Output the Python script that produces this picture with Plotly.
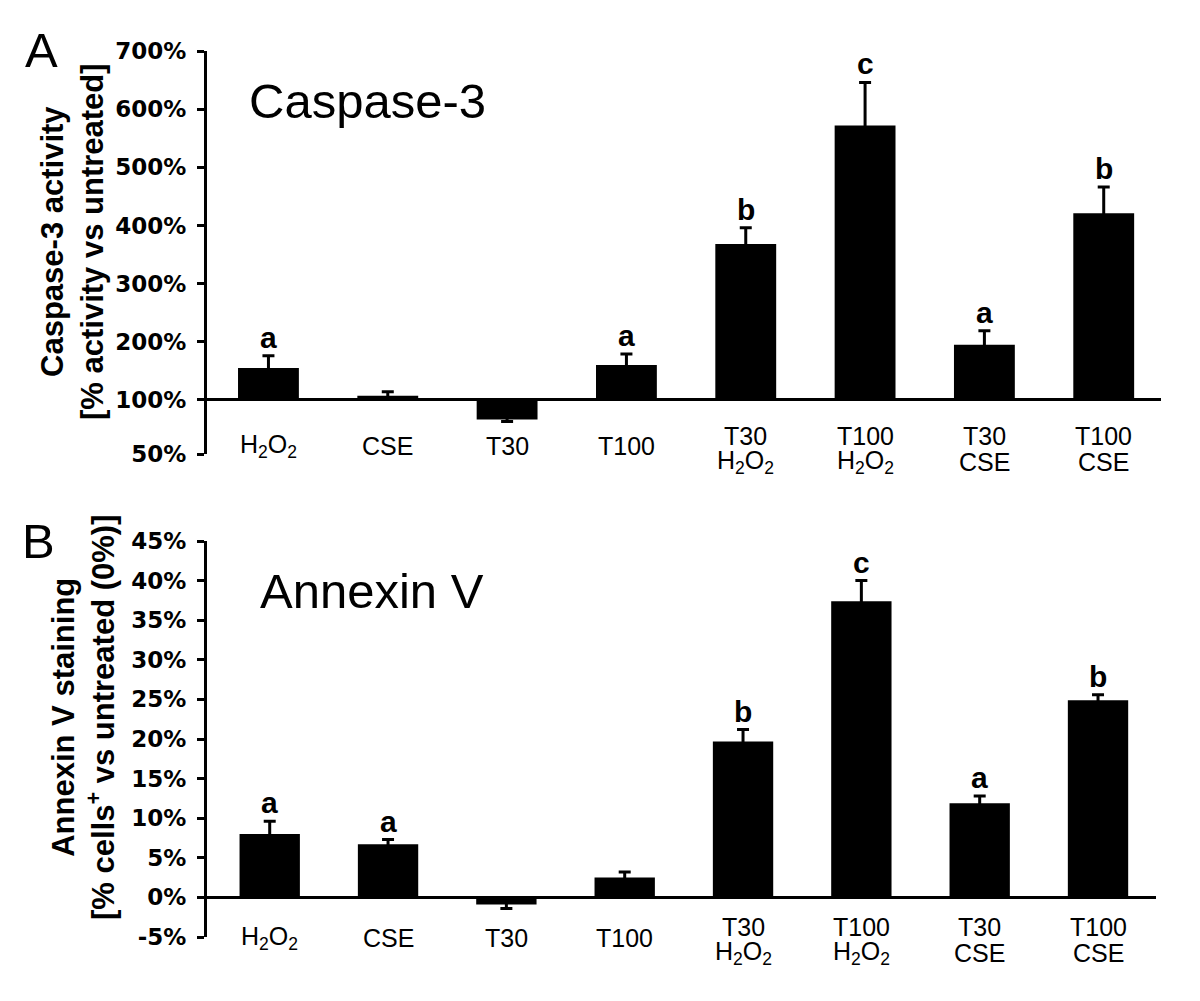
import plotly.graph_objects as go

# ---------------- data ----------------
categories = ["H2O2", "CSE", "T30", "T100", "T30 H2O2", "T100 H2O2", "T30 CSE", "T100 CSE"]
label_line1 = ["H<sub>2</sub>O<sub>2</sub>", "CSE", "T30", "T100", "T30", "T100", "T30", "T100"]
label_line2 = ["", "", "", "", "H<sub>2</sub>O<sub>2</sub>", "H<sub>2</sub>O<sub>2</sub>", "CSE", "CSE"]

# Panel A: Caspase-3 activity (% of untreated)
casp_mean = [155, 107, 82, 160, 368, 572, 195, 421]
casp_err = [21, 7, 2, 19, 28, 74, 24, 45]
casp_letters = ["a", "", "", "a", "b", "c", "a", "b"]
casp_ticks = [50, 100, 200, 300, 400, 500, 600, 700]

# Panel B: Annexin V staining (% cells+ vs untreated)
annx_mean = [8.0, 6.7, -0.9, 2.5, 19.7, 37.4, 11.9, 24.9]
annx_err = [1.6, 0.6, 0.5, 0.7, 1.5, 2.6, 0.9, 0.7]
annx_letters = ["a", "a", "", "", "b", "c", "a", "b"]
annx_ticks = [-5, 0, 5, 10, 15, 20, 25, 30, 35, 40, 45]

# ---------------- helpers ----------------
LOW_FACTOR = 1.86  # segmented axis below 100 %


def to_axis(v):
    return v - 100 if v >= 100 else (v - 100) * LOW_FACTOR


# figure geometry; the page body adds an 8px margin, so screen = figure + 8
OFF = 8
W, H = 1184, 985
L = 207 - OFF
T = 51 - OFF
R = W - (1161 - OFF)
B = H - (937 - OFF)
PH = H - T - B
PW = W - L - R


def py(screen_y):
    return (H - B - (screen_y - OFF)) / PH


def px(screen_x):
    return (screen_x - OFF - L) / PW


xs = list(range(len(categories)))

# hidden-side error length (kept inside the bar so that no cap shows)
A_HIDE = 5
B_HIDE = 0.35

a_base = [to_axis(v) for v in casp_mean]
a_plus = [to_axis(v + e) - to_axis(v) if v >= 100 else A_HIDE for v, e in zip(casp_mean, casp_err)]
a_minus = [A_HIDE if v >= 100 else to_axis(v) - to_axis(v - e) for v, e in zip(casp_mean, casp_err)]

b_plus = [e if v >= 0 else B_HIDE for v, e in zip(annx_mean, annx_err)]
b_minus = [B_HIDE if v >= 0 else e for v, e in zip(annx_mean, annx_err)]

fig = go.Figure()
fig.add_trace(go.Bar(
    x=xs, y=a_base, width=0.51, marker=dict(color="black", line=dict(width=0)),
    error_y=dict(type="data", symmetric=False, array=a_plus, arrayminus=a_minus,
                 color="black", thickness=3, width=6),
    xaxis="x", yaxis="y", showlegend=False))
fig.add_trace(go.Bar(
    x=xs, y=annx_mean, width=0.51, marker=dict(color="black", line=dict(width=0)),
    error_y=dict(type="data", symmetric=False, array=b_plus, arrayminus=b_minus,
                 color="black", thickness=3, width=6),
    xaxis="x2", yaxis="y2", showlegend=False))

tickfont = dict(family="DejaVu Sans", size=23, color="black", weight="bold")
yax_common = dict(showline=True, linewidth=3, linecolor="black", ticks="outside",
                  ticklen=7, tickwidth=3, tickcolor="black", showgrid=False,
                  zeroline=True, zerolinecolor="black", zerolinewidth=3,
                  tickfont=tickfont, ticklabelstandoff=6)

fig.update_layout(
    width=W, height=H, margin=dict(l=L, r=R, t=T, b=B),
    paper_bgcolor="white", plot_bgcolor="white", bargap=0.49,
    xaxis=dict(domain=[0, 1], range=[-0.515, 7.48], showticklabels=False, ticks="",
               showline=False, showgrid=False, zeroline=False, anchor="y"),
    xaxis2=dict(domain=[0, px(1156)], range=[-0.53, 7.49], showticklabels=False, ticks="",
                showline=False, showgrid=False, zeroline=False, anchor="y2"),
    yaxis=dict(domain=[py(454), 1], range=[to_axis(50), to_axis(700)],
               tickvals=[to_axis(t) for t in casp_ticks],
               ticktext=[f"{t}%" for t in casp_ticks], anchor="x", **yax_common),
    yaxis2=dict(domain=[0, py(541)], range=[-5, 45],
                tickvals=annx_ticks, ticktext=[f"{t}%" for t in annx_ticks],
                anchor="x2", **yax_common),
)

ann = []
catfont = dict(family="Liberation Sans", size=25, color="black")
letterfont = dict(family="Liberation Sans", size=30, color="black", weight="bold")

# category labels
for xref, single_y, l1_y, l2_y in [("x", 446, 436, 462), ("x2", 938, 927, 953)]:
    for i in xs:
        if label_line2[i]:
            ann.append(dict(x=i, xref=xref, y=py(l1_y), yref="paper", text=label_line1[i],
                            showarrow=False, font=catfont, yanchor="middle",
                            height=24, valign="middle", borderpad=0))
            ann.append(dict(x=i, xref=xref, y=py(l2_y), yref="paper", text=label_line2[i],
                            showarrow=False, font=catfont, yanchor="middle",
                            height=24, valign="middle", borderpad=0))
        else:
            ann.append(dict(x=i, xref=xref, y=py(single_y), yref="paper", text=label_line1[i],
                            showarrow=False, font=catfont, yanchor="middle"))

# significance letters
for i in xs:
    if casp_letters[i]:
        ann.append(dict(x=i, xref="x", y=a_base[i] + a_plus[i], yref="y", text=casp_letters[i],
                        showarrow=False, font=letterfont, yanchor="bottom", yshift=0))
    if annx_letters[i]:
        ann.append(dict(x=i, xref="x2", y=annx_mean[i] + b_plus[i], yref="y2", text=annx_letters[i],
                        showarrow=False, font=letterfont, yanchor="bottom", yshift=0))

# panel titles and letters
titlefont = dict(family="Liberation Sans", size=49, color="black")
ann.append(dict(x=px(367), xref="paper", y=py(101), yref="paper", text="Caspase-3",
                showarrow=False, font=titlefont, xanchor="center", yanchor="middle"))
ann.append(dict(x=px(372), xref="paper", y=py(591), yref="paper", text="Annexin V",
                showarrow=False, font=titlefont, xanchor="center", yanchor="middle"))
panelfont = dict(family="Liberation Sans", size=49, color="black")
ann.append(dict(x=px(41), xref="paper", y=py(50), yref="paper", text="A",
                showarrow=False, font=panelfont, xanchor="center", yanchor="middle"))
ann.append(dict(x=px(38), xref="paper", y=py(541), yref="paper", text="B",
                showarrow=False, font=panelfont, xanchor="center", yanchor="middle"))

# y-axis titles
ytfont = dict(family="Liberation Sans", size=31, color="black", weight="bold")
ann.append(dict(x=px(72), xref="paper", y=py(242), yref="paper",
                text="Caspase-3 activity<br>[% activity vs untreated]",
                showarrow=False, font=ytfont, textangle=-90, xanchor="center", yanchor="middle"))
ann.append(dict(x=px(83), xref="paper", y=py(718), yref="paper",
                text="Annexin V staining<br>[% cells<sup>+</sup> vs untreated (0%)]",
                showarrow=False, font=ytfont, textangle=-90, xanchor="center", yanchor="middle"))

fig.update_layout(annotations=ann)
fig.write_html("out.html")
